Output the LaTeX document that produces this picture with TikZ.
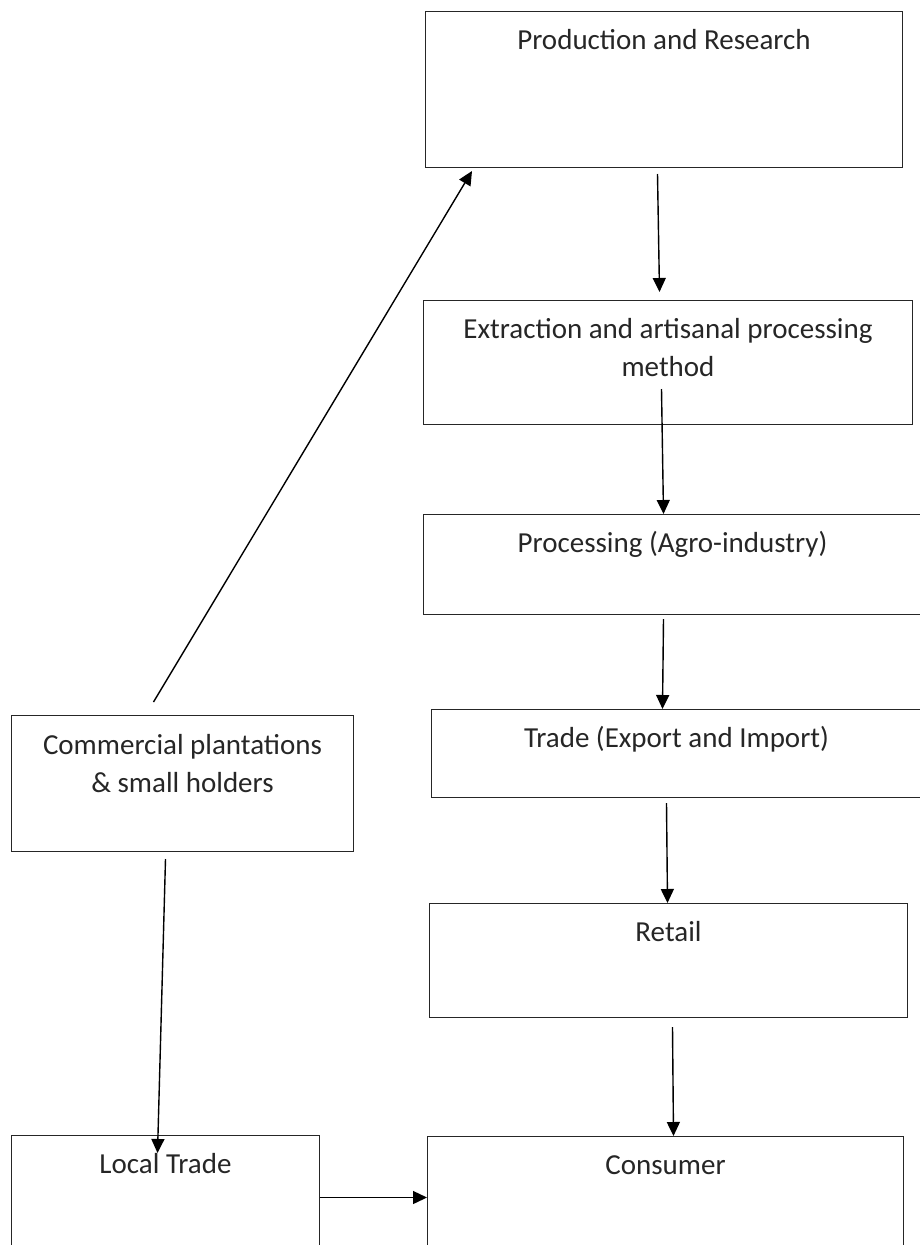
\documentclass[tikz,border=0pt]{standalone}
\usepackage{fontspec}
\setmainfont{Carlito}
\usetikzlibrary{arrows.meta}
\begin{document}
\begin{tikzpicture}[x=1pt,y=-1pt,
  box/.style={draw=black!85,line width=1pt,rectangle,anchor=north west,inner sep=0pt},
  txt/.style={anchor=base,align=center,font=\fontsize{29}{38}\selectfont,text=black!85,yshift=-38pt},
  arr/.style={line width=1.4pt,-{Triangle[length=14pt,width=13pt]}}]
\useasboundingbox (0,0) rectangle (919,1245);
\node[box,minimum width=477pt,minimum height=156pt,label={[txt]north:Production and Research}] (prod) at (425,11) {};
\node[box,minimum width=489pt,minimum height=124pt,label={[txt,yshift=-38pt]north:Extraction and artisanal processing\\method}] (extr) at (423,300) {};
\node[box,minimum width=498pt,minimum height=100pt,label={[txt]north:Processing (Agro-industry)}] (proc) at (423,514) {};
\node[box,minimum width=490pt,minimum height=88pt,label={[txt]north:Trade (Export and Import)}] (trade) at (431,709) {};
\node[box,minimum width=478pt,minimum height=114pt,label={[txt]north:Retail}] (retail) at (429,903) {};
\node[box,minimum width=342pt,minimum height=136pt,label={[txt,yshift=-39pt]north:Commercial plantations\\\& small holders}] (comm) at (11,715) {};
\node[box,minimum width=308pt,minimum height=124pt,label={[txt]north:Local Trade}] (local) at (11,1135) {};
\node[box,minimum width=476pt,minimum height=122pt,label={[txt]north:Consumer}] (cons) at (427,1136) {};
% main chain
\draw[arr] ([shift={(-6.5,6)}]prod.south) -- ([shift={(-8.5,-8)}]extr.north);
\draw[arr] ([shift={(-6.5,-36)}]extr.south) -- ([shift={(-9,0)}]proc.north);
\draw[arr] ([shift={(-9,4)}]proc.south) -- ([shift={(-14,0)}]trade.north);
\draw[arr] ([shift={(-10,5)}]trade.south) -- ([shift={(-1,0)}]retail.north);
\draw[arr] ([shift={(4,9)}]retail.south) -- ([shift={(8,0)}]cons.north);
% side branch
\draw[arr] ([shift={(-29,-13)}]comm.north) -- ([shift={(47,3)}]prod.south west);
\draw[arr] ([shift={(-17,7)}]comm.south) -- ([shift={(-8,18)}]local.north);
\draw[arr] (local.east) -- (cons.west);
\end{tikzpicture}
\end{document}
